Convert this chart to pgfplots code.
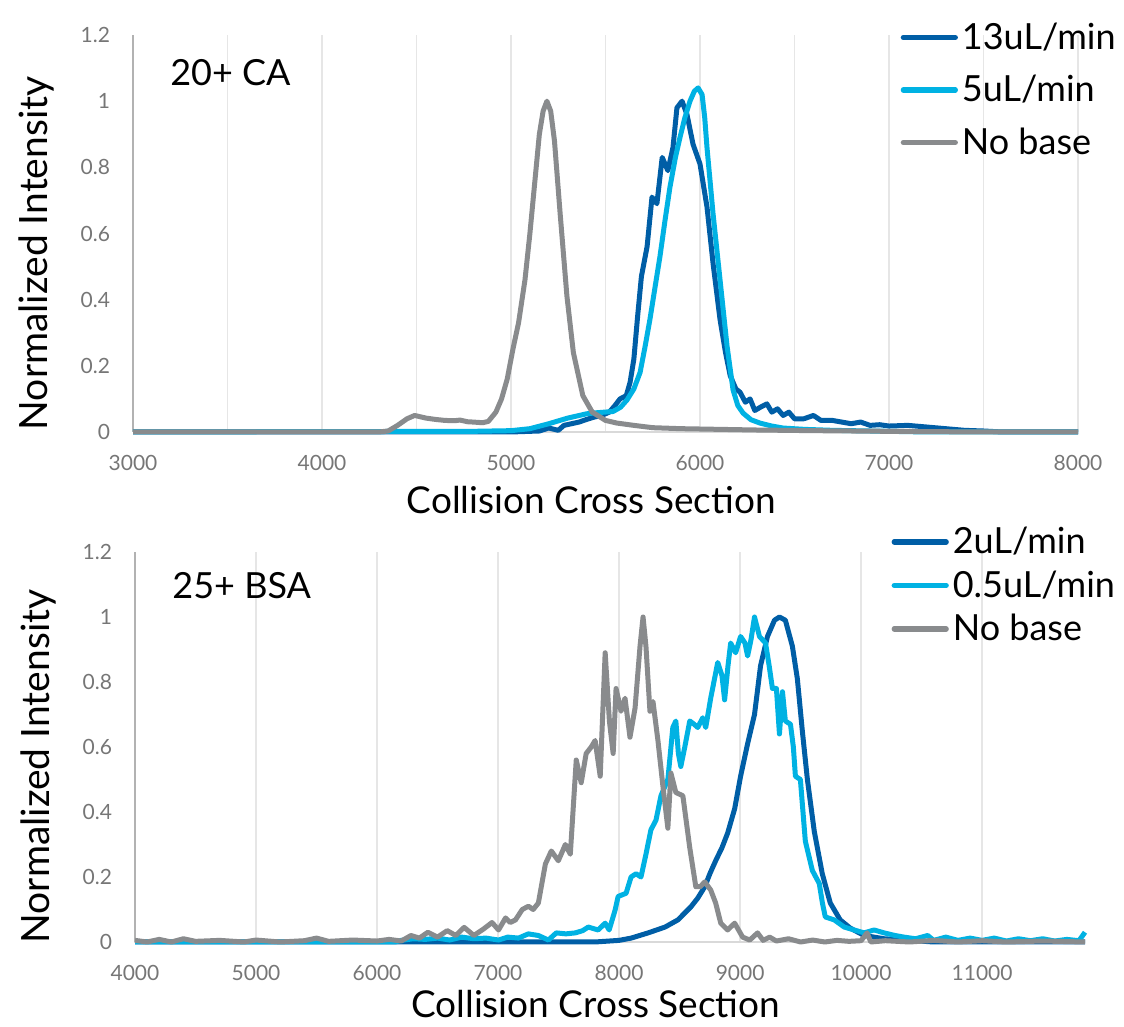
\documentclass[border=0pt]{standalone}
\usepackage{fontspec}
\setmainfont{Lato}
\usepackage{pgfplots}
\pgfplotsset{compat=1.18}

\definecolor{cDark}{RGB}{0,94,166}
\definecolor{cLight}{RGB}{0,178,227}
\definecolor{cGray}{RGB}{137,139,141}
\definecolor{cGrid}{RGB}{230,230,230}
\definecolor{cTick}{RGB}{118,118,118}

\pgfplotsset{
  ccs/.style={
    scale only axis,
    anchor=south west,
    ymin=0, ymax=1.2,
    ytick={0,0.2,0.4,0.6,0.8,1,1.2},
    axis x line*=bottom, axis y line*=left,
    axis line style={-},
    x axis line style={draw=black!15, line width=1pt},
    y axis line style={draw=black!30, line width=1.2pt},
    major tick length=0pt, minor tick length=0pt,
    xmajorgrids,
    scaled x ticks=false,
    grid style={draw=cGrid, line width=0.8pt},
    minor grid style={draw=cGrid, line width=0.8pt},
    tick label style={font=\fontsize{10.5}{12}\selectfont, text=cTick},
    /pgf/number format/assume math mode=true,
    /pgf/number format/1000 sep={},
    xticklabel style={yshift=-8pt},
    yticklabel style={xshift=-8pt},
    every axis y label/.style={at={(axis description cs:-0.102,0.45)}, rotate=90,
      anchor=center, inner sep=0pt, font=\fontsize{19.5}{21}\selectfont},
    every axis x label/.style={at={(axis description cs:0.485,0)}, anchor=center,
      inner sep=0pt, yshift=-34pt, font=\fontsize{18.5}{20}\selectfont},
    xlabel={Collision Cross Section},
    ylabel={Normalized Intensity},
    legend cell align=left,
    legend style={draw=none, fill=none, font=\fontsize{18}{20}\selectfont,
      anchor=north west, inner sep=0pt},
    legend image code/.code={\draw[#1, line width=2.6pt, line cap=round] (0pt,0pt) -- (26pt,0pt);},
    clip=false,
  },
  crv/.style={line width=2.5pt, line join=round},
}

\begin{document}
\begin{tikzpicture}
\useasboundingbox (0,0) rectangle (562pt,513.5pt);

% ---- 20+ CA ----
\begin{axis}[ccs,
  at={(66.5pt,297.5pt)}, width=472.5pt, height=198.5pt,
  xmin=3000, xmax=8000,
  xtick={3000,4000,5000,6000,7000,8000},
  minor xtick={3500,4500,5500,6500,7500},
  xminorgrids,
  legend style={at={(0.812,1.042)}, row sep=7.5pt},
]
\addplot[cDark, crv] coordinates {
(3000,0) (5000,0) (5150,0.003) (5200,0.012) (5250,0.005) (5280,0.02) (5320,0.025)
(5360,0.03) (5400,0.038) (5440,0.045) (5480,0.05) (5520,0.06) (5550,0.08) (5577,0.1)
(5610,0.11) (5630,0.15) (5650,0.22) (5670,0.35) (5690,0.47) (5720,0.56) (5746,0.71)
(5772,0.69) (5800,0.83) (5830,0.79) (5857,0.86) (5878,0.98) (5905,1.0) (5931,0.96)
(5963,0.87) (6000,0.81) (6037,0.68) (6069,0.51) (6106,0.34) (6135,0.24) (6160,0.17)
(6190,0.13) (6212,0.12) (6240,0.09) (6265,0.1) (6290,0.065) (6320,0.075) (6354,0.085)
(6380,0.06) (6410,0.07) (6440,0.05) (6470,0.06) (6500,0.04) (6550,0.04) (6600,0.05)
(6640,0.035) (6700,0.035) (6750,0.03) (6800,0.025) (6850,0.03) (6900,0.02) (6950,0.022)
(7000,0.018) (7100,0.02) (7200,0.015) (7300,0.01) (7400,0.005) (7500,0.003) (7600,0) (8000,0)
};
\addlegendentry{13uL/min}
\addplot[cLight, crv] coordinates {
(3000,0) (4800,0.002) (5000,0.004) (5100,0.01) (5200,0.025) (5300,0.042) (5400,0.055)
(5450,0.058) (5540,0.062) (5580,0.075) (5614,0.097) (5650,0.13) (5683,0.18) (5710,0.26)
(5735,0.34) (5760,0.43) (5788,0.53) (5815,0.64) (5841,0.74) (5870,0.83) (5894,0.89)
(5920,0.95) (5947,1.0) (5970,1.03) (5990,1.04) (6011,1.02) (6025,0.95) (6037,0.86)
(6069,0.66) (6106,0.46) (6143,0.26) (6175,0.127) (6200,0.08) (6228,0.057) (6270,0.037)
(6317,0.027) (6380,0.018) (6439,0.012) (6550,0.008) (6700,0.005) (6900,0.003) (7100,0.001)
(7200,0) (8000,0)
};
\addlegendentry{5uL/min}
\addplot[cGray, crv] coordinates {
(3000,0) (4300,0) (4350,0.003) (4400,0.02) (4450,0.04) (4490,0.05) (4550,0.042) (4600,0.038)
(4650,0.035) (4700,0.034) (4730,0.036) (4770,0.031) (4800,0.03) (4850,0.028) (4880,0.032)
(4920,0.06) (4950,0.1) (4980,0.16) (5010,0.25) (5040,0.33) (5074,0.46) (5100,0.6)
(5120,0.72) (5150,0.9) (5170,0.97) (5190,1.0) (5210,0.97) (5230,0.88) (5260,0.66)
(5296,0.41) (5330,0.24) (5380,0.11) (5430,0.06) (5500,0.035) (5560,0.027) (5650,0.02)
(5750,0.013) (5900,0.01) (6100,0.008) (6300,0.006) (6600,0.004) (7000,0.002) (7500,0) (8000,0)
};
\addlegendentry{No base}
\node[anchor=west, font=\fontsize{18}{20}\selectfont] at (rel axis cs:0.032,0.904) {20+ CA};
\end{axis}

% ---- 25+ BSA ----
\begin{axis}[ccs,
  at={(67.5pt,42.5pt)}, width=475pt, height=195pt,
  xmin=4000, xmax=11850,
  xtick={4000,5000,6000,7000,8000,9000,10000,11000},
  x label style={yshift=3pt},
  legend style={at={(0.796,1.075)}, row sep=3pt},
]
\addplot[cDark, crv] coordinates {
(4000,0) (7800,0) (8000,0.005) (8100,0.012) (8240,0.028) (8380,0.046) (8486,0.068)
(8593,0.108) (8650,0.135) (8708,0.17) (8750,0.21) (8798,0.25) (8850,0.29) (8897,0.335)
(8955,0.41) (9004,0.51) (9062,0.61) (9119,0.70) (9169,0.85) (9226,0.94) (9284,0.99)
(9325,1.0) (9374,0.99) (9432,0.91) (9473,0.81) (9514,0.65) (9556,0.50) (9613,0.34)
(9679,0.21) (9745,0.12) (9827,0.068) (9909,0.043) (10025,0.02) (10190,0.01) (10400,0.005)
(10600,0) (11850,0)
};
\addlegendentry{2uL/min}
\addplot[cLight, crv] coordinates {
(4000,0) (6150,0) (6200,0.005) (6300,0.01) (6400,0.008) (6500,0.012) (6600,0.006)
(6700,0.015) (6800,0.01) (6900,0.012) (7004,0.006) (7080,0.015) (7169,0.012) (7250,0.025)
(7333,0.02) (7416,0.006) (7481,0.028) (7560,0.025) (7638,0.028) (7700,0.035) (7745,0.046)
(7827,0.037) (7885,0.058) (7918,0.037) (7967,0.098) (7992,0.14) (8058,0.15) (8099,0.2)
(8140,0.21) (8181,0.2) (8222,0.27) (8263,0.345) (8305,0.375) (8346,0.45) (8403,0.50)
(8444,0.66) (8469,0.68) (8490,0.58) (8510,0.54) (8543,0.60) (8584,0.68) (8620,0.67)
(8650,0.66) (8691,0.69) (8716,0.66) (8757,0.75) (8815,0.86) (8850,0.82) (8872,0.745)
(8900,0.85) (8922,0.92) (8963,0.89) (9004,0.94) (9040,0.92) (9062,0.88) (9090,0.93)
(9119,1.0) (9160,0.94) (9210,0.92) (9240,0.85) (9267,0.78) (9300,0.78) (9325,0.64)
(9350,0.77) (9374,0.68) (9416,0.67) (9440,0.6) (9457,0.51) (9498,0.50) (9539,0.31)
(9597,0.22) (9654,0.18) (9680,0.12) (9704,0.077) (9778,0.068) (9860,0.046) (9942,0.037)
(10025,0.028) (10107,0.037) (10190,0.028) (10280,0.02) (10354,0.015) (10450,0.01)
(10550,0.02) (10600,0.005) (10700,0.015) (10800,0.005) (10900,0.012) (11000,0.005)
(11100,0.012) (11200,0.003) (11300,0.01) (11400,0.004) (11500,0.01) (11600,0.003)
(11700,0.008) (11800,0.004) (11850,0.03)
};
\addlegendentry{0.5uL/min}
\addplot[cGray, crv] coordinates {
(4000,0.005) (4100,0) (4200,0.008) (4300,0) (4400,0.01) (4500,0.002) (4700,0.005) (4900,0)
(5000,0.006) (5200,0) (5400,0.004) (5500,0.012) (5600,0.002) (5800,0.006) (6000,0.003)
(6100,0.008) (6200,0.003) (6280,0.02) (6350,0.012) (6420,0.03) (6500,0.015) (6580,0.035)
(6650,0.02) (6720,0.045) (6800,0.02) (6880,0.04) (6950,0.06) (7004,0.037) (7062,0.074)
(7100,0.06) (7144,0.068) (7200,0.1) (7251,0.11) (7290,0.1) (7333,0.12) (7391,0.24)
(7440,0.28) (7498,0.25) (7556,0.30) (7597,0.27) (7646,0.56) (7687,0.49) (7728,0.58)
(7770,0.6) (7802,0.62) (7844,0.51) (7885,0.89) (7920,0.68) (7951,0.58) (7975,0.78)
(8016,0.71) (8049,0.75) (8090,0.63) (8132,0.72) (8173,0.91) (8198,1.0) (8222,0.91)
(8255,0.71) (8280,0.74) (8321,0.62) (8362,0.48) (8403,0.35) (8428,0.52) (8469,0.46)
(8527,0.45) (8584,0.29) (8634,0.17) (8670,0.17) (8708,0.185) (8757,0.16) (8798,0.12)
(8840,0.058) (8897,0.037) (8955,0.058) (9021,0.015) (9080,0.006) (9144,0.028) (9190,0.005)
(9244,0.015) (9300,0.003) (9400,0.01) (9500,0) (9600,0.006) (9700,0) (9800,0.005)
(9900,0.002) (10000,0.004) (10049,0.028) (10080,0) (10200,0.004) (10400,0) (10600,0.005)
(10800,0) (11000,0.004) (11200,0) (11500,0.003) (11850,0)
};
\addlegendentry{No base}
\node[anchor=west, font=\fontsize{18}{20}\selectfont] at (rel axis cs:0.032,0.915) {25+ BSA};
\end{axis}
\end{tikzpicture}
\end{document}
